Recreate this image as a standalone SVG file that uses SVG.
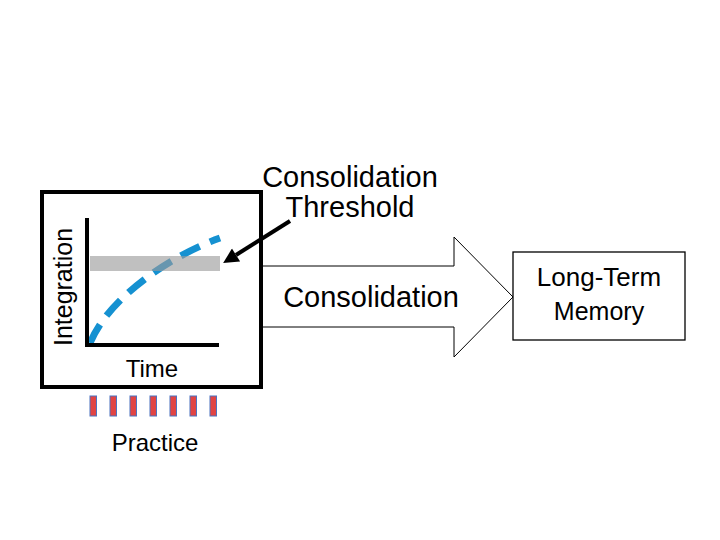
<svg xmlns="http://www.w3.org/2000/svg" width="720" height="540" viewBox="0 0 720 540">
<style>
text{font-family:"Liberation Sans",Arial,sans-serif;fill:#000}
.bar{fill:#e04444;stroke:#4a72c0;stroke-width:1}
</style>
<defs>
<marker id="ah" viewBox="0 0 10 10" refX="0" refY="5" markerWidth="4.2" markerHeight="3.8" orient="auto" markerUnits="strokeWidth">
<path d="M0,0 L10,5 L0,10 z" fill="#000"/>
</marker>
</defs>
<rect width="720" height="540" fill="#fff"/>
<g id="connectors">
<polygon id="consolidation-arrow" points="260,266 454,266 454,237 513,297 454,357 454,327 260,327" fill="#fff" stroke="#000" stroke-width="1"/>
<text x="371" y="307" font-size="29" text-anchor="middle">Consolidation</text>
<line id="threshold-pointer" x1="290" y1="221" x2="236" y2="255" stroke="#000" stroke-width="4" marker-end="url(#ah)"/>
</g>
<g id="graph">
<rect x="42" y="192" width="219" height="195" fill="none" stroke="#000" stroke-width="4"/>
<path d="M90,343 C110,295 175,254 220,238" fill="none" stroke="#1591d1" stroke-width="7" stroke-dasharray="21,11"/>
<rect x="90" y="256" width="130" height="15" fill="#999" fill-opacity="0.62"/>
<path d="M87,218 V345 H219" fill="none" stroke="#000" stroke-width="4"/>
<text transform="translate(72,287) rotate(-90)" font-size="25" text-anchor="middle">Integration</text>
<text x="152" y="377" font-size="24" text-anchor="middle">Time</text>
</g>
<g id="threshold-label">
<text x="350" y="187" font-size="29" text-anchor="middle">Consolidation</text>
<text x="350" y="217" font-size="29" text-anchor="middle">Threshold</text>
</g>
<g id="practice">
<rect class="bar" x="90" y="396" width="6.5" height="20"/>
<rect class="bar" x="110" y="396" width="6.5" height="20"/>
<rect class="bar" x="130" y="396" width="6.5" height="20"/>
<rect class="bar" x="150" y="396" width="6.5" height="20"/>
<rect class="bar" x="170" y="396" width="6.5" height="20"/>
<rect class="bar" x="190" y="396" width="6.5" height="20"/>
<rect class="bar" x="210" y="396" width="6.5" height="20"/>
<text x="155" y="451" font-size="24" text-anchor="middle">Practice</text>
</g>
<g id="long-term-memory">
<rect x="513" y="252" width="172" height="88" fill="#fff" stroke="#000" stroke-width="1.3"/>
<text x="599" y="286" font-size="26" text-anchor="middle">Long-Term</text>
<text x="599" y="320" font-size="25" text-anchor="middle">Memory</text>
</g>
</svg>
